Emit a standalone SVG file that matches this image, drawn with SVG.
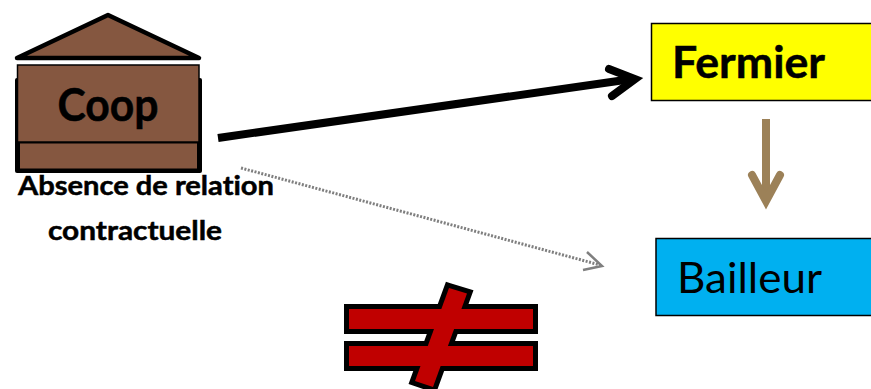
<svg xmlns="http://www.w3.org/2000/svg" width="871" height="389" viewBox="0 0 871 389">
<style>
text{font-family:"Lato","Open Sans","Liberation Sans",sans-serif;fill:#000;font-variant-ligatures:none}
.b{font-weight:700;stroke:#000;stroke-width:.5}
.brown{fill:#855740}
.red{fill:#c00000}
</style>
<rect width="871" height="389" fill="#fff"/>
<g id="coop">
<path d="M108 15 L199 58 H17 Z" class="brown" stroke="#000" stroke-width="4.500" stroke-linejoin="round"/>
<rect x="15" y="78" width="187" height="95" rx="2" fill="#000"/>
<rect x="17.500" y="65" width="181.500" height="77" class="brown" stroke="#000" stroke-width="1.500"/>
<rect x="20" y="143.500" width="177" height="25" class="brown"/>
<text x="108" y="121" class="b" font-size="45" text-anchor="middle" textLength="101" lengthAdjust="spacingAndGlyphs">Coop</text>
</g>
<g id="label">
<text x="146" y="195" class="b" font-size="27" text-anchor="middle" textLength="256" lengthAdjust="spacingAndGlyphs">Absence de relation</text>
<text x="135" y="240" class="b" font-size="27" text-anchor="middle" textLength="174" lengthAdjust="spacingAndGlyphs">contractuelle</text>
</g>
<g id="fermier">
<rect x="651.500" y="23.500" width="225" height="77" fill="#ff0" stroke="#000" stroke-width="1.500"/>
<text x="672" y="78" class="b" font-size="43" textLength="153" lengthAdjust="spacingAndGlyphs">Fermier</text>
</g>
<g id="bailleur">
<rect x="656" y="238.500" width="220" height="77" fill="#00b0f0" stroke="#000" stroke-width="1.500"/>
<text x="677" y="293" font-size="43" textLength="145" lengthAdjust="spacingAndGlyphs">Bailleur</text>
</g>
<g id="connectors" fill="none">
<path d="M218 138 L632 79" stroke="#000" stroke-width="8"/>
<path d="M609 69 L635 79 L612 96" stroke="#000" stroke-width="8" stroke-linecap="round" stroke-linejoin="miter"/>
<path d="M241 168 L600 265" stroke="#7f7f7f" stroke-width="3" stroke-dasharray="2 1.500"/>
<path d="M587 252 L602 266 L583 270" stroke="#7f7f7f" stroke-width="2.500"/>
<path d="M766 119 V200" stroke="#9c8158" stroke-width="8"/>
<path d="M752 175 L766 201 L780 175" stroke="#9c8158" stroke-width="8" stroke-linecap="round"/>
</g>
<g id="not-equal">
<g fill="#000" stroke="#000" stroke-width="10">
<rect x="349" y="309" width="184" height="20"/>
<rect x="349" y="346" width="184" height="20"/>
<path d="M449 288 L467 293.500 L433 387 L415 381 Z"/>
</g>
<g class="red">
<rect x="349" y="309" width="184" height="20"/>
<rect x="349" y="346" width="184" height="20"/>
<path d="M449 288 L467 293.500 L433 387 L415 381 Z"/>
</g>
</g>
</svg>
